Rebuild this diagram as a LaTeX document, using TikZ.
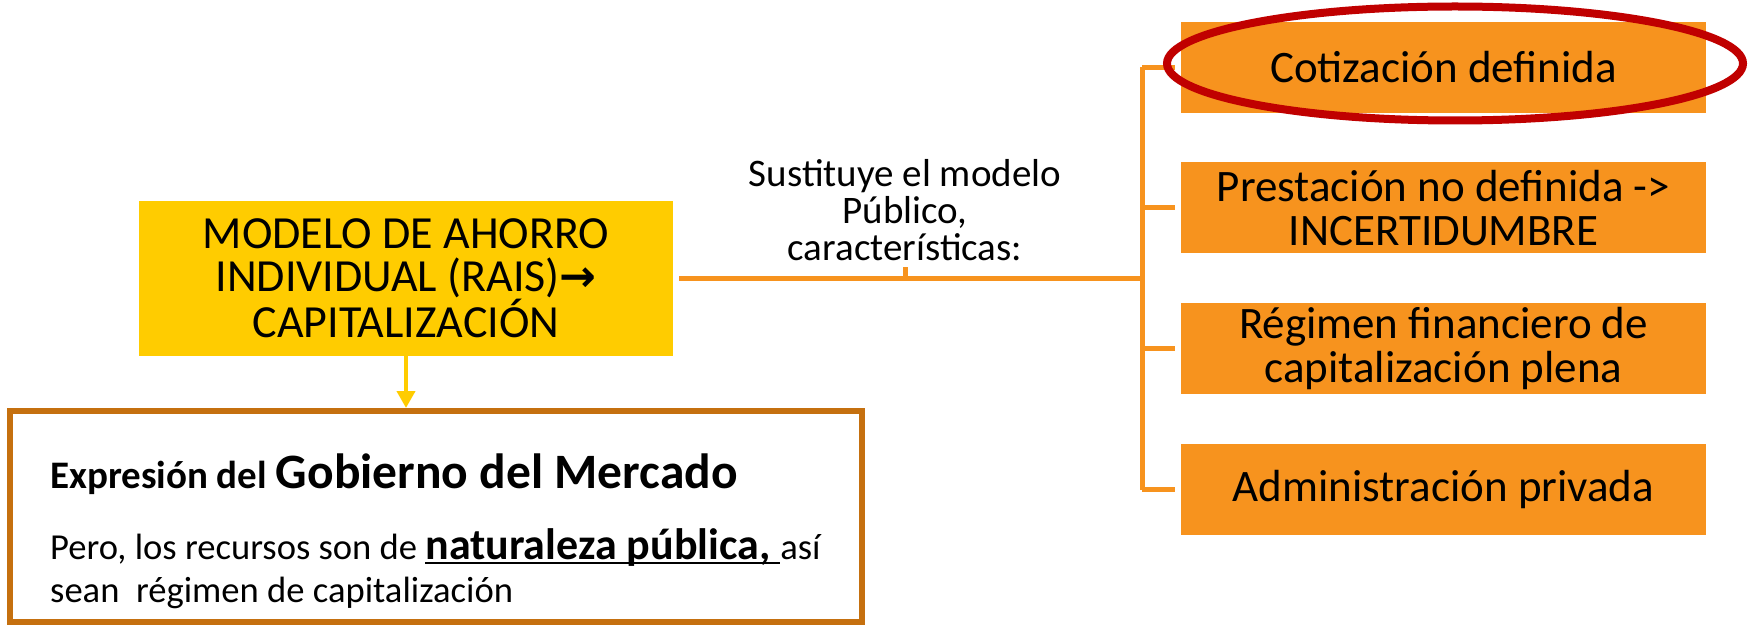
\documentclass[tikz,border=0pt]{standalone}
\usepackage{fontspec}
\setmainfont{Carlito}
\newfontfamily\symfont{DejaVu Sans}
\usetikzlibrary{arrows.meta}

\definecolor{ahorroyellow}{HTML}{FFCC00}
\definecolor{rasgoorange}{HTML}{F7931E}
\definecolor{marcobrown}{HTML}{C5700F}
\definecolor{resaltered}{HTML}{C00000}

% thick underline
\newcommand\subrayado[1]{\setbox0\hbox{#1}\rlap{\rule[-5pt]{\wd0}{2.5pt}}\box0}

\tikzset{
  modelobox/.style={fill=ahorroyellow, inner sep=0pt, align=center,
    font=\fontsize{46}{43}\selectfont},
  rasgobox/.style={fill=rasgoorange, inner sep=0pt, align=center,
    minimum width=525pt, minimum height=91pt,
    font=\fontsize{45}{44}\selectfont},
  conector/.style={draw=rasgoorange, line width=5pt},
}

\begin{document}
\begin{tikzpicture}[x=1pt, y=-1pt]
\useasboundingbox (0,0) rectangle (1749,628);

% Central model
\node[modelobox, minimum width=534pt, minimum height=155pt] (modelo) at (406,278.5)
  {MODELO DE AHORRO\\INDIVIDUAL (RAIS){\symfont\bfseries\fontsize{44}{43}\selectfont →}\\CAPITALIZACIÓN};

% Government of the market
\node[draw=marcobrown, line width=6pt, minimum width=852pt, minimum height=211pt] (mercado) at (436,516.5) {};
\node[anchor=base west, inner sep=0pt] (gobierno) at (50,488)
  {\bfseries\fontsize{39}{40}\selectfont Expresión del \fontsize{49.5}{50}\selectfont Gobierno del Mercado};
\node[anchor=base west, inner sep=0pt, font=\fontsize{36.6}{44}\selectfont] (recursos) at (50,559)
  {Pero, los recursos son de \subrayado{\bfseries\fontsize{44}{44}\selectfont naturaleza pública,\ }así};
\node[anchor=base west, inner sep=0pt, font=\fontsize{36.6}{44}\selectfont] (regimen) at (50,602)
  {sean\ \ régimen de capitalización};
\draw[ahorroyellow, line width=4pt, -{Triangle[width=18pt, length=17pt]}] (modelo.south) -- (modelo.south |- mercado.north);

% Characteristics
\node[rasgobox] (cotizacion) at (1443.5,67.5) {Cotización definida};
\node[rasgobox] (prestacion) at (1443.5,208) {Prestación no definida ->\\INCERTIDUMBRE};
\node[rasgobox] (financiero) at (1443.5,348.5) {Régimen financiero de\\capitalización plena};
\node[rasgobox] (privada) at (1443.5,489.5) {Administración privada};

% Label
\node[align=center, inner sep=0pt, font=\fontsize{39}{37}\selectfont] (sustituye) at (905,210)
  {Sustituye el modelo\\Público,\\características:};

% Connectors
\coordinate (bus) at (1142,279);
\draw[conector] ([xshift=6pt]modelo.east |- bus) -- (bus);
\draw[conector] (905,279) -- (905,267);
\draw[conector] (bus |- cotizacion.west) -- (bus |- privada.west);
\foreach \r in {cotizacion, prestacion, financiero, privada}
  \draw[conector] (bus |- \r.west) -- ([xshift=-6pt]\r.west);

% Highlight
\draw[resaltered, line width=8pt] (1455,63.5) ellipse [x radius=288, y radius=57];
\end{tikzpicture}
\end{document}
